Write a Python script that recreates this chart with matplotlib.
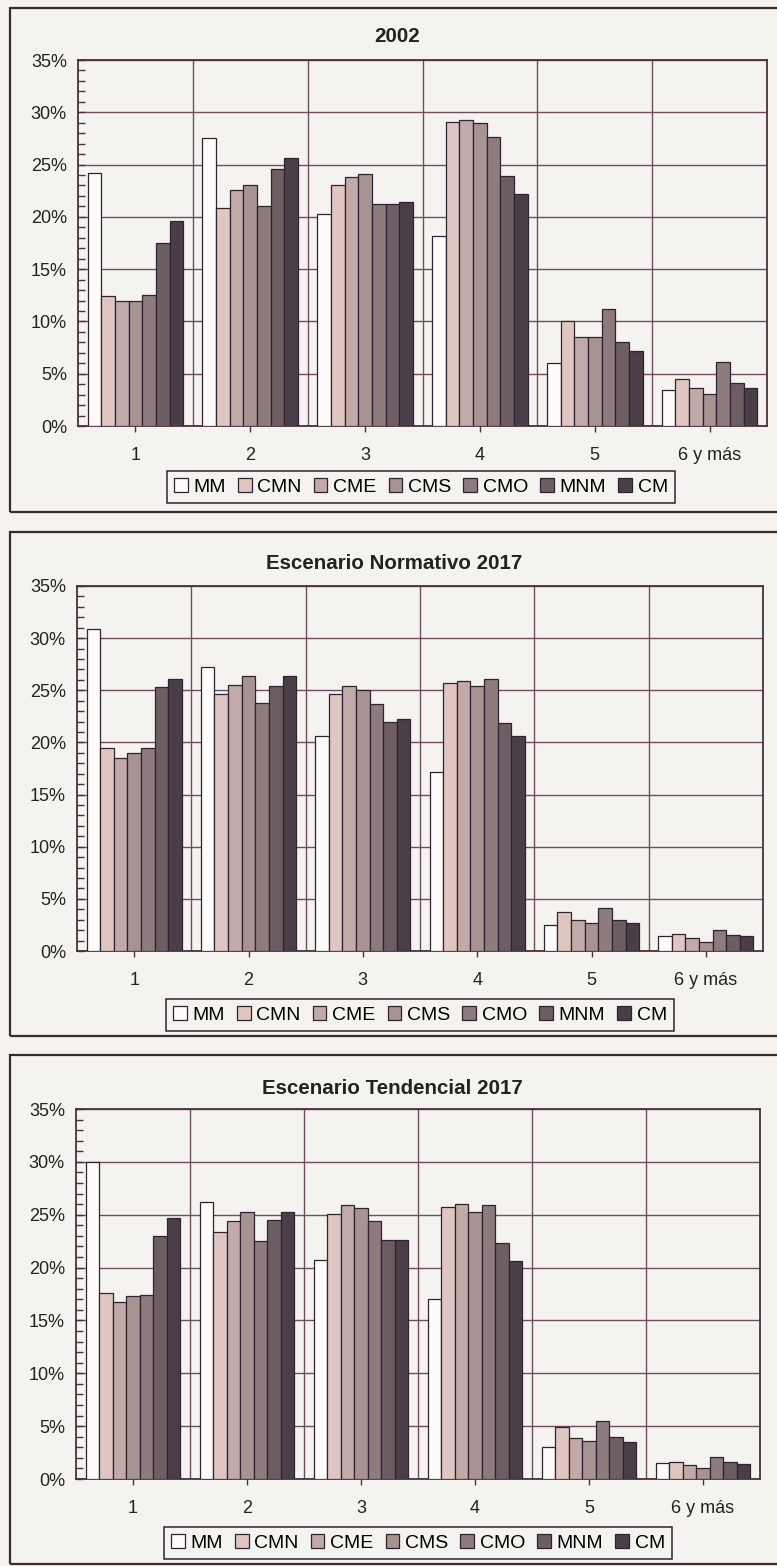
import matplotlib
matplotlib.use("Agg")
import matplotlib.pyplot as plt
import matplotlib.patches as patches
from matplotlib.ticker import MultipleLocator, FixedLocator, PercentFormatter
import numpy as np

plt.rcParams['font.family'] = ['Liberation Sans', 'DejaVu Sans']

categories = ["1", "2", "3", "4", "5", "6 y más"]
series = ["MM", "CMN", "CME", "CMS", "CMO", "MNM", "CM"]
colors = ["#fdfcfa", "#dfc6c1", "#c1aaa7", "#a89393", "#8d7b7d", "#6c5e63", "#4a3f48"]

titles = ["2002", "Escenario Normativo 2017", "Escenario Tendencial 2017"]

# porcentaje de hogares por tamaño, una fila por serie
val_2002 = [
    [24.2, 27.5, 20.3, 18.2, 6.0, 3.4],   # MM
    [12.4, 20.8, 23.0, 29.1, 10.0, 4.5],  # CMN
    [12.0, 22.6, 23.8, 29.3, 8.5, 3.6],   # CME
    [12.0, 23.0, 24.1, 29.0, 8.5, 3.1],   # CMS
    [12.5, 21.0, 21.2, 27.6, 11.2, 6.1],  # CMO
    [17.5, 24.6, 21.2, 23.9, 8.0, 4.1],   # MNM
    [19.6, 25.6, 21.4, 22.2, 7.2, 3.6],   # CM
]
val_normativo = [
    [30.9, 27.2, 20.6, 17.2, 2.5, 1.4],
    [19.5, 24.6, 24.6, 25.7, 3.7, 1.6],
    [18.5, 25.5, 25.4, 25.9, 3.0, 1.2],
    [19.0, 26.4, 25.0, 25.4, 2.7, 0.9],
    [19.5, 23.8, 23.7, 26.1, 4.1, 2.0],
    [25.3, 25.4, 22.0, 21.9, 3.0, 1.5],
    [26.1, 26.4, 22.2, 20.6, 2.7, 1.4],
]
val_tendencial = [
    [30.0, 26.2, 20.7, 17.0, 3.0, 1.5],
    [17.6, 23.4, 25.1, 25.7, 4.9, 1.6],
    [16.7, 24.4, 25.9, 26.0, 3.9, 1.3],
    [17.3, 25.3, 25.6, 25.3, 3.6, 1.0],
    [17.4, 22.5, 24.4, 25.9, 5.5, 2.1],
    [23.0, 24.5, 22.6, 22.3, 4.0, 1.6],
    [24.7, 25.3, 22.6, 20.6, 3.5, 1.4],
]
panels = [val_2002, val_normativo, val_tendencial]

W, H = 777, 1566
bg = "#f5f3f0"
line = "#4a3040"
grid = "#6e4e5e"

# [left, right, top, bottom] of each plot area, in pixels
axes_px = [(78, 767, 60, 426), (77, 763, 586, 951), (76, 760, 1109, 1479)]
frames_px = [(10, 8, 512), (10, 532, 1036), (10, 1055, 1564)]
title_px = [(397, 37), (394, 563), (392, 1088)]
legend_px = [(421, 487), (420, 1015), (418, 1543)]

fig = plt.figure(figsize=(W / 100, H / 100), dpi=100, facecolor=bg)

x = np.arange(len(categories))
bw = 0.119

for k, data in enumerate(panels):
    l, r, t, b = axes_px[k]
    ax = fig.add_axes([l / W, 1 - b / H, (r - l) / W, (b - t) / H])
    ax.set_facecolor(bg)
    handles = []
    for i, name in enumerate(series):
        bars = ax.bar(x + (i - 3) * bw, data[i], bw, color=colors[i],
                      edgecolor="#2e2233", linewidth=0.9, label=name, zorder=3)
        handles.append(bars)

    ax.set_xlim(-0.5, len(categories) - 0.5)
    ax.set_ylim(0, 35)
    ax.yaxis.set_major_locator(MultipleLocator(5))
    ax.yaxis.set_minor_locator(MultipleLocator(1))
    ax.yaxis.set_major_formatter(PercentFormatter(decimals=0))
    ax.set_xticks(x)
    ax.set_xticklabels(categories)
    ax.xaxis.set_minor_locator(FixedLocator(x[:-1] + 0.5))

    ax.grid(axis="y", which="major", color=grid, linewidth=1.0, zorder=1)
    ax.grid(axis="x", which="minor", color=grid, linewidth=1.0, zorder=1)
    ax.set_axisbelow(True)

    ax.tick_params(axis="y", which="both", direction="in", length=5,
                   width=1, color=line, labelsize=13, pad=8, labelcolor="#222")
    ax.tick_params(axis="x", which="major", direction="out", length=4,
                   width=1, color=line, labelsize=13, pad=11, labelcolor="#222")
    ax.tick_params(axis="x", which="minor", length=0)
    for s in ax.spines.values():
        s.set_color(line)
        s.set_linewidth(1.3)

    fx, fy0, fy1 = frames_px[k]
    fig.patches.append(patches.Rectangle(
        (fx / W, 1 - fy1 / H), 1.02 - fx / W, (fy1 - fy0) / H,
        transform=fig.transFigure, fill=False, edgecolor="#3a2a30", linewidth=1.6))

    tx, ty = title_px[k]
    fig.text(tx / W, 1 - ty / H, titles[k], ha="center", va="center",
             fontsize=14.8, fontweight="bold", color="#222")

    lx, ly = legend_px[k]
    leg = fig.legend(handles, series, loc="center", bbox_to_anchor=(lx / W, 1 - ly / H),
                     ncol=7, fontsize=14, handlelength=0.7, handleheight=0.7,
                     handletextpad=0.3, columnspacing=0.62, borderpad=0.35,
                     fancybox=False, framealpha=1, facecolor=bg, edgecolor="#2e2233")
    leg.get_frame().set_linewidth(1.1)

fig.savefig("out.png", dpi=100, facecolor=bg)
